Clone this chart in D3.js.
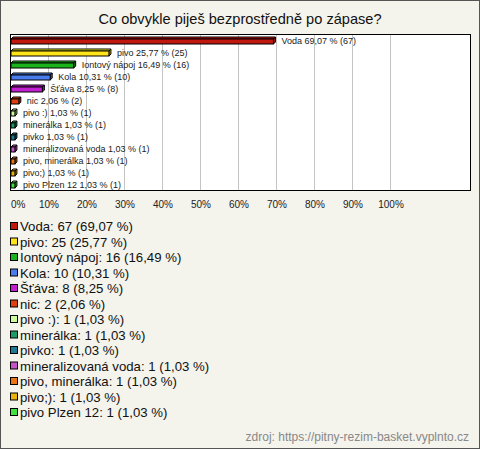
<!DOCTYPE html>
<html><head><meta charset="utf-8">
<script src="https://cdn.jsdelivr.net/npm/d3@7/dist/d3.min.js"></script>
<style>body{margin:0;background:#fff}svg text{font-family:"Liberation Sans",Arial,sans-serif}</style>
</head><body>
<svg id="c" width="480" height="449"></svg>
<script>
const title = "Co obvykle piješ bezprostředně po zápase?";
const categories = ["Voda","pivo","Iontový nápoj","Kola","Šťáva","nic","pivo :)","minerálka","pivko","mineralizovaná voda","pivo, minerálka","pivo;)","pivo Plzen 12"];
const counts = [67,25,16,10,8,2,1,1,1,1,1,1,1];
const percents = [69.07,25.77,16.49,10.31,8.25,2.06,1.03,1.03,1.03,1.03,1.03,1.03,1.03];
const colors = ["#c0170e","#ffe41a","#1bb31b","#4a7ced","#c21ed2","#e0400f","#ccfb9c","#1c9c64","#1f7a92","#c455c6","#ea7412","#e8b20a","#3fe03f"];
const tickValues = [0,10,20,30,40,50,60,70,80,90,100];
const source = "zdroj: https://pitny-rezim-basket.vyplnto.cz";

const fmt = v => v.toFixed(2).replace(".", ",");
const svg = d3.select("#c");
svg.append("rect").attr("x",0.5).attr("y",0.5).attr("width",479).attr("height",448)
  .attr("fill","#f4f3ec").attr("stroke","#555");
svg.append("text").attr("x",240).attr("y",24).attr("text-anchor","middle")
  .attr("font-size",14.6).attr("fill","#111").text(title);

const plot = {x0:10.5, x1:470.5, y0:34.5, y1:190.5};
const x = d3.scaleLinear().domain([0,100]).range([11,391]);
const y = d3.scaleBand().domain(categories).range([plot.y0, plot.y1]);

svg.append("rect").attr("x",plot.x0).attr("y",plot.y0).attr("width",plot.x1-plot.x0)
  .attr("height",plot.y1-plot.y0).attr("fill","#fff");
svg.append("g").selectAll("line").data(tickValues.slice(1)).join("line")
  .attr("x1",d=>Math.round(x(d))-0.5).attr("x2",d=>Math.round(x(d))-0.5)
  .attr("y1",plot.y0).attr("y2",plot.y1).attr("stroke","#c4c4c4");

const d = 2;
const data = categories.map((c,i)=>({c, n:counts[i], p:percents[i], col:colors[i]}));
const bars = svg.append("g").selectAll("g").data(data).join("g");
bars.each(function(r){
  const g = d3.select(this);
  const x0 = x(0), x1 = x(r.p);
  const cy = y(r.c) + y.bandwidth()/2;
  const yt = cy - 1.5, yb = cy + 3.5;
  const col = d3.color(r.col);
  g.append("polygon").attr("points",[[x0,yt],[x0+d,yt-d],[x1+d,yt-d],[x1,yt]].join(" "))
    .attr("fill",col.brighter(0.3)).attr("stroke","#000").attr("stroke-width",1);
  g.append("polygon").attr("points",[[x1,yt],[x1+d,yt-d],[x1+d,yb-d],[x1,yb]].join(" "))
    .attr("fill",col.darker(0.6)).attr("stroke","#000").attr("stroke-width",1);
  g.append("rect").attr("x",x0).attr("y",yt).attr("width",x1-x0).attr("height",yb-yt)
    .attr("fill",r.col).attr("stroke","#000").attr("stroke-width",1);
  g.append("text").attr("x",x1+d+6).attr("y",cy+3).attr("font-size",9).attr("fill","#222")
    .text(`${r.c} ${fmt(r.p)} % (${r.n})`);
});

svg.append("rect").attr("x",plot.x0).attr("y",plot.y0).attr("width",plot.x1-plot.x0)
  .attr("height",plot.y1-plot.y0).attr("fill","none").attr("stroke","#000");

svg.append("g").selectAll("text").data(tickValues).join("text")
  .attr("x",v=>x(v)).attr("y",208)
  .attr("text-anchor",(v,i)=> i===0 ? "start" : "middle")
  .attr("font-size",10).attr("fill","#222").text(v=>v+"%");

const leg = svg.append("g").selectAll("g").data(data).join("g")
  .attr("transform",(r,i)=>`translate(0,${231+15.5*i})`);
leg.append("rect").attr("x",10.5).attr("y",-8.5).attr("width",7).attr("height",7)
  .attr("fill",r=>r.col).attr("stroke","#000");
leg.append("text").attr("x",20).attr("y",0).attr("font-size",13.2).attr("fill","#111")
  .text(r=>`${r.c}: ${r.n} (${fmt(r.p)} %)`);

svg.append("text").attr("x",469).attr("y",441).attr("text-anchor","end")
  .attr("font-size",12).attr("fill","#888").text(source);
</script>
</body></html>
